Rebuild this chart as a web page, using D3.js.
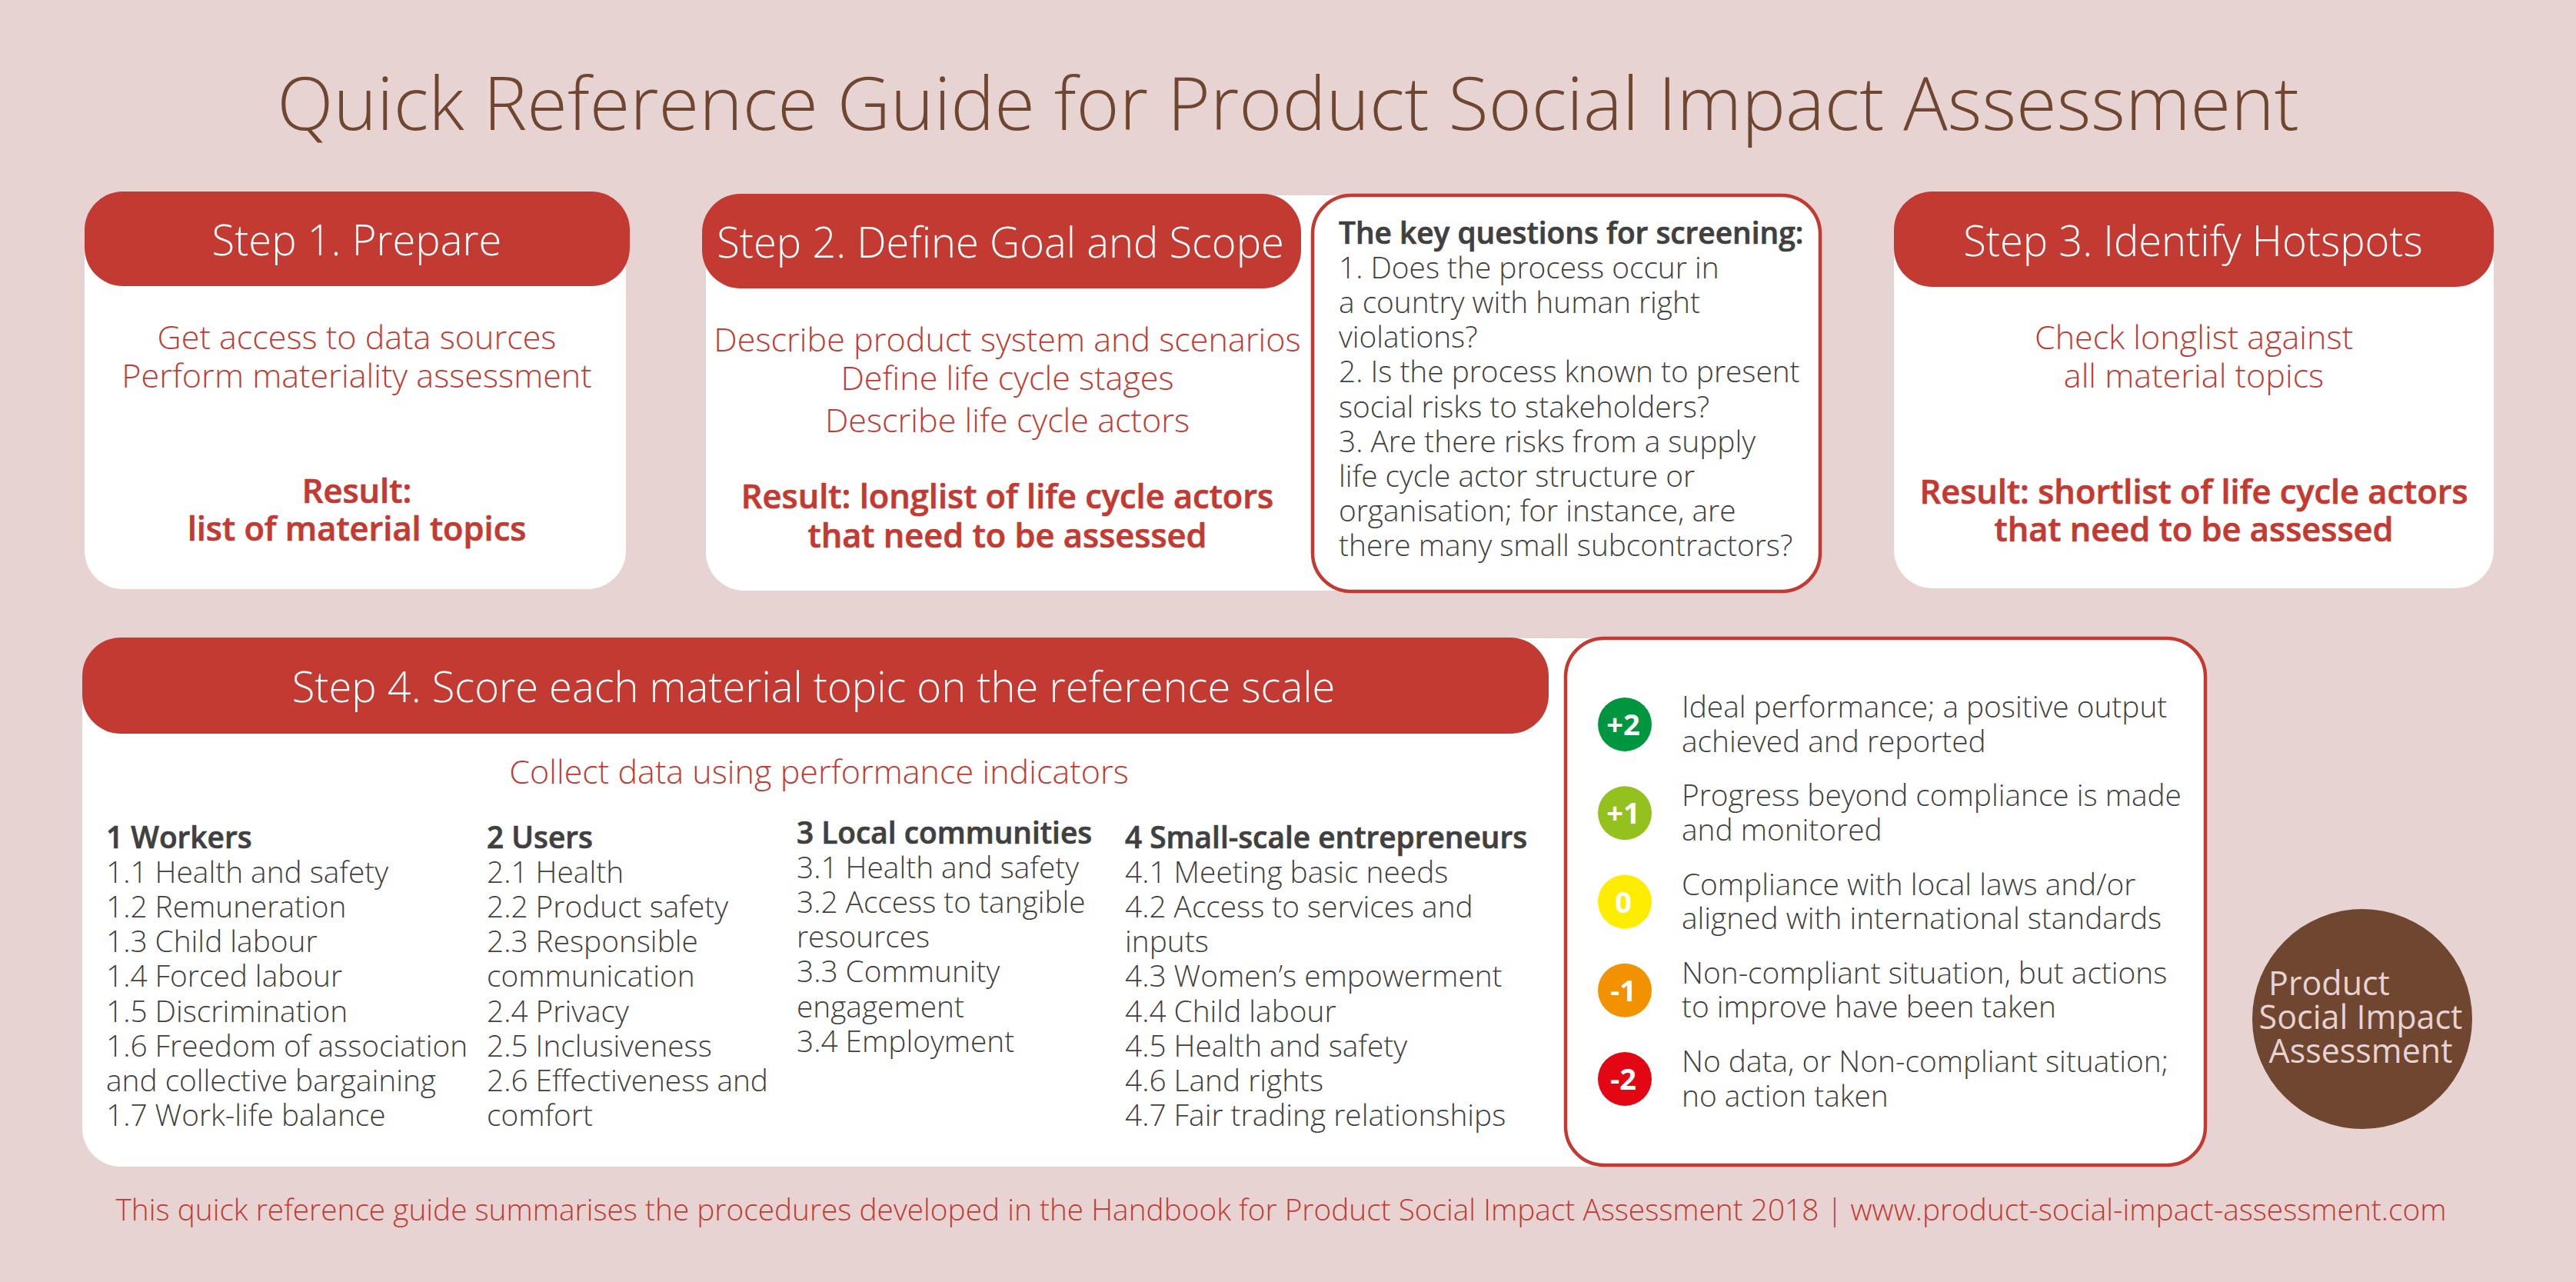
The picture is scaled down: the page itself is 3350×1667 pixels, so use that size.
<!DOCTYPE html>
<html>
<head>
<meta charset="utf-8">
<script src="https://cdn.jsdelivr.net/npm/d3@7"></script>
<style>
  html, body { margin: 0; padding: 0; background: #e6d3d2; }
  svg { display: block; }
  text { font-family: "Open Sans", sans-serif; }
</style>
</head>
<body>
<div id="chart"></div>
<script>
const titleText = 'Quick Reference Guide for Product Social Impact Assessment'
const stepTitles = ['Step 1. Prepare', 'Step 2. Define Goal and Scope', 'Step 3. Identify Hotspots', 'Step 4. Score each material topic on the reference scale']
const step1Lines = ['Get access to data sources', 'Perform materiality assessment']
const step1Result = ['Result:', 'list of material topics']
const step2Lines = ['Describe product system and scenarios', 'Define life cycle stages', 'Describe life cycle actors']
const step2Result = ['Result: longlist of life cycle actors', 'that need to be assessed']
const step3Lines = ['Check longlist against', 'all material topics']
const step3Result = ['Result: shortlist of life cycle actors', 'that need to be assessed']
const keyTitle = 'The key questions for screening:'
const keyLines = ['1. Does the process occur in', 'a country with human right', 'violations?', '2. Is the process known to present', 'social risks to stakeholders?', '3. Are there risks from a supply', 'life cycle actor structure or', 'organisation; for instance, are', 'there many small subcontractors?']
const collectText = 'Collect data using performance indicators'
const workers = ['1 Workers', '1.1 Health and safety', '1.2 Remuneration', '1.3 Child labour', '1.4 Forced labour', '1.5 Discrimination', '1.6 Freedom of association', 'and collective bargaining', '1.7 Work-life balance']
const users = ['2 Users', '2.1 Health', '2.2 Product safety', '2.3 Responsible', 'communication', '2.4 Privacy', '2.5 Inclusiveness', '2.6 Effectiveness and', 'comfort']
const communities = ['3 Local communities', '3.1 Health and safety', '3.2 Access to tangible', 'resources', '3.3 Community', 'engagement', '3.4 Employment']
const entrepreneurs = ['4 Small-scale entrepreneurs', '4.1 Meeting basic needs', '4.2 Access to services and', 'inputs', '4.3 Women\u2019s empowerment', '4.4 Child labour', '4.5 Health and safety', '4.6 Land rights', '4.7 Fair trading relationships']
const scores = ['+2', '+1', '0', '-1', '-2']
const scoreColors = ['#009640', '#95c11f', '#ffed00', '#f39200', '#e30613']
const scoreLines = [
    ['Ideal performance; a positive output', 'achieved and reported'],
    ['Progress beyond compliance is made', 'and monitored'],
    ['Compliance with local laws and/or', 'aligned with international standards'],
    ['Non-compliant situation, but actions', 'to improve have been taken'],
    ['No data, or Non-compliant situation;', 'no action taken']
]
const badgeLines = ['Product', 'Social Impact', 'Assessment']
const footerText = 'This quick reference guide summarises the procedures developed in the Handbook for Product Social Impact Assessment 2018 | www.product-social-impact-assessment.com'

const width = 3350
const height = 1667
const red = '#c23a32'
const brown = '#6f4630'
const grey = '#404040'

const svg = d3.select('#chart').append('svg')
    .attr('width', width)
    .attr('height', height)

svg.append('rect').attr('width', width).attr('height', height).attr('fill', '#e6d3d2')

function box(x, y, w, h, fill, stroke) {
    svg.append('rect')
        .attr('x', x).attr('y', y).attr('width', w).attr('height', h)
        .attr('rx', 50).attr('ry', 50)
        .attr('fill', fill)
        .attr('stroke', stroke || 'none')
        .attr('stroke-width', stroke ? 4.5 : 0)
}

// stacked lines of text, y is the first baseline
function lines(list, x, y, step, o) {
    const isBold = i => o.bold || (o.boldFirst && i === 0)
    svg.append('g').selectAll('text')
        .data(list)
        .join('text')
        .attr('x', x)
        .attr('y', (d, i) => y + i * step)
        .attr('text-anchor', o.anchor || 'start')
        .attr('font-size', o.size)
        .attr('font-weight', (d, i) => isBold(i) ? 600 : (o.weight || 350))
        .attr('fill', o.fill)
        // the semibold in the guide is a bit heavier than ours
        .attr('stroke', (d, i) => isBold(i) ? o.fill : 'none')
        .attr('stroke-width', (d, i) => isBold(i) ? 0.7 : 0)
        .text(d => d)
}

// title
lines([titleText], 1675, 169, 0, { anchor: 'middle', size: 95.8, fill: brown, weight: 300 })

// white cards
box(110, 252, 704, 514, '#fff')
box(918, 254, 500, 514, '#fff')
svg.append('rect').attr('x', 1000).attr('y', 254).attr('width', 760).attr('height', 514).attr('fill', '#fff')
box(2463, 252, 780, 513, '#fff')
box(107, 830, 500, 687, '#fff')
svg.append('rect').attr('x', 300).attr('y', 830).attr('width', 1800).attr('height', 687).attr('fill', '#fff')

// outlined boxes
box(1707, 254, 660, 515, '#fff', red)
box(2036, 830, 832, 685, '#fff', red)

// red headers
box(110, 249, 709, 123, red)
box(913, 252, 779, 123, red)
box(2463, 249, 780, 124, red)
box(107, 829, 1907, 125, red)

const header = { anchor: 'middle', size: 54.3, fill: '#fff', weight: 300 }
lines([stepTitles[0]], 464, 332, 0, header)
lines([stepTitles[1]], 1301, 335, 0, header)
lines([stepTitles[2]], 2852, 333, 0, header)
lines([stepTitles[3]], 1058, 913, 0, header)

const body = { anchor: 'middle', size: 43.1, fill: red }
const result = { anchor: 'middle', size: 43.4, fill: red, bold: true }
lines(step1Lines, 464, 454, 50, body)
lines(step1Result, 464, 654, 49, result)
lines(step2Lines.slice(0, 2), 1310, 456.5, 50.5, body)
lines(step2Lines.slice(2), 1310, 562, 0, body)
lines(step2Result, 1310, 661, 51, result)
lines(step3Lines, 2853, 454, 50, body)
lines(step3Result, 2853, 655, 49, result)

// key questions
lines([keyTitle].concat(keyLines), 1741, 317, 45.1, { size: 38.8, fill: grey, boldFirst: true })

// step 4 body
lines([collectText], 1065, 1019, 0, { anchor: 'middle', size: 43.1, fill: red })
const topic = { size: 38.8, fill: grey, boldFirst: true }
lines(workers, 138, 1103, 45.1, topic)
lines(users, 633, 1103, 45.1, topic)
lines(communities, 1036, 1097, 45.1, topic)
lines(entrepreneurs, 1463, 1103, 45.1, topic)

// reference scale
const scoreY = d3.scalePoint().domain(scores).range([942, 1403])
const scoreColor = d3.scaleOrdinal().domain(scores).range(scoreColors)
const scoreRows = svg.append('g').selectAll('g')
    .data(scores)
    .join('g')
    .attr('transform', d => `translate(0,${scoreY(d)})`)
scoreRows.append('circle')
    .attr('cx', 2113)
    .attr('r', 35)
    .attr('fill', d => scoreColor(d))
scoreRows.append('text')
    .attr('x', 2111)
    .attr('y', 14)
    .attr('text-anchor', 'middle')
    .attr('font-size', 38)
    .attr('font-weight', 700)
    .attr('fill', '#fff')
    .text(d => d)
scores.forEach((s, i) => {
    lines(scoreLines[i], 2187, scoreY(s) - 9, 44.5, { size: 38.8, fill: grey })
})

// badge
svg.append('circle').attr('cx', 3072).attr('cy', 1325).attr('r', 143).attr('fill', brown)
const badge = { anchor: 'middle', size: 43, fill: '#e6d3d2', weight: 400 }
lines([badgeLines[0]], 3029, 1294, 0, badge)
lines(badgeLines.slice(1), 3070, 1338, 44, badge)

// footer
lines([footerText], 1666, 1587, 0, { anchor: 'middle', size: 38.8, fill: red })
</script>
</body>
</html>
